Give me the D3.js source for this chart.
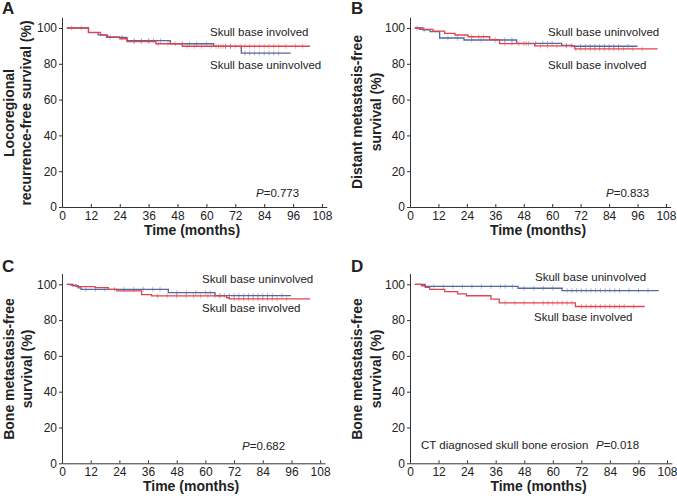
<!DOCTYPE html>
<meta charset="utf-8">
<style>
    body { margin: 0; background: #fff; }
    text { font-family: "Liberation Sans", Arial, sans-serif; fill: #222; }
    .tick text { font-size: 12px; }
    .axis path, .axis line { stroke: #333; }
    .title { font-size: 14px; font-weight: bold; }
    .letter { font-size: 17px; font-weight: bold; }
    .note { font-size: 11.5px; }
</style>
<svg width="677" height="496"></svg>
<script src="https://d3js.org/d3.v7.min.js"></script>
<script>

    // [time in months, survival %] steps
    var aInvolved = [[2,100],[11,97.6],[16,96],[19,95],[24,94],[27,92.4],[39,91.2],[50,89.8],[103,89.8]];
    var aUninvolved = [[2,100],[11,97.4],[15,96.2],[18.5,94.8],[27,92.9],[45,91.2],[63,89.7],[74.5,86],[95,86]];
    var bInvolved = [[2,100],[4,99.2],[9.7,98.2],[14.6,97],[19,96.1],[24.5,95.1],[33.6,93.5],[37.8,91.3],[52.6,90],[69.5,88.3],[104.5,88.3]];
    var bUninvolved = [[2,100],[5.5,99],[8.5,98],[12.5,94.4],[22.8,93.3],[45,91.4],[64,90.3],[68.5,89.8],[96,89.8]];
    var cInvolved = [[2,100],[3.5,99.5],[6,98.7],[13.8,98.1],[19.4,97.2],[22.9,96.3],[33.3,94.2],[37.5,93.5],[68.9,92.5],[70,91.9],[103.8,91.9]];
    var cUninvolved = [[2,100],[4.5,99.2],[6.8,98],[8,97.2],[44.5,95.3],[64,93.7],[95.8,93.7]];
    var dInvolved = [[2,100],[4.8,99.2],[6.4,98.3],[8.3,97.2],[14.6,95.9],[20,94.7],[23.7,93.6],[34,91.7],[37.5,89.6],[69.5,87.6],[98.6,87.6]];
    var dUninvolved = [[2,100],[6.4,98.8],[45.4,97.8],[63.9,96.5],[104.5,96.5]];

    // censored times
    var aInvCens = [30,33,36,40,44,47,52,55,58,62,65,67,68,70,72,74,76,78,80,82,84,86,88,90,93,97,100];
    var aUninvCens = [4,8,20,25,30,33,36,38,41,50,53,56,60,64,66,68,70,76,78,80,82,84,86,88,90];
    var bInvCens = [26,29,31,40,43,46,49,55,58,62,66,70,72,74,76,78,80,82,84,86,88,90,94,98];
    var bUninvCens = [3,6,16,20,26,30,36,40,43,48,50,53,56,58,60,66,68,72,74,76,78,80,82,84,86,88,92];
    var cInvCens = [40,44,48,52,55,58,61,64,66,72,74,76,78,80,82,84,86,88,90,94];
    var cUninvCens = [10,14,18,22,26,30,34,38,41,48,52,56,60,62,66,68,70,72,74,76,78,80,82,84,86,88,92];
    var dInvCens = [40,44,48,52,56,58,60,62,64,66,68,72,74,76,78,80,82,84,86,88,90,94];
    var dUninvCens = [10,14,18,22,26,30,34,38,40,43,48,52,56,60,66,68,70,72,74,76,78,80,82,84,86,88,92,96,100];

    var xTicks = [0,12,24,36,48,60,72,84,96,108];
    var yTicks = [0,20,40,60,80,100];

    var red = "#e2434c", blue = "#55679f";

    var panels = [
        {letter: "A", lx: 2, ly: 14, x0: 62, kx: 2.407, y0: 207, ylab: ["Locoregional", "recurrence-free survival (%)"], yl1: 9, yl2: 26, ymid: 113,
         red: aInvolved, blue: aUninvolved, redC: aInvCens, blueC: aUninvCens,
         labels: [["Skull base involved", 210, 36], ["Skull base uninvolved", 210, 69]], p: ["0.773", 256, 197]},
        {letter: "B", lx: 351, ly: 14, x0: 410, kx: 2.37, y0: 207, ylab: ["Distant metastasis-free", "survival (%)"], yl1: 357, yl2: 376, ymid: 112,
         red: bInvolved, blue: bUninvolved, redC: bInvCens, blueC: bUninvCens,
         labels: [["Skull base uninvolved", 548, 36], ["Skull base involved", 548, 69]], p: ["0.833", 606, 197]},
        {letter: "C", lx: 2, ly: 272, x0: 62, kx: 2.39, y0: 463.3, ylab: ["Bone metastasis-free", "survival (%)"], yl1: 9, yl2: 27, ymid: 369,
         red: cInvolved, blue: cUninvolved, redC: cInvCens, blueC: cUninvCens,
         labels: [["Skull base uninvolved", 202, 283], ["Skull base involved", 202, 312]], p: ["0.682", 242, 450]},
        {letter: "D", lx: 351, ly: 272, x0: 410, kx: 2.38, y0: 463.3, ylab: ["Bone metastasis-free", "survival (%)"], yl1: 357, yl2: 376, ymid: 369,
         red: dInvolved, blue: dUninvolved, redC: dInvCens, blueC: dUninvCens,
         labels: [["Skull base uninvolved", 535, 281], ["Skull base involved", 534, 321], ["CT diagnosed skull bone erosion", 421, 449]], p: ["0.018", 596, 449]}
    ];

    var svg = d3.select("svg");

    function stepAt(steps, t) {
        var v = steps[0][1];
        steps.forEach(function(s) { if (s[0] <= t) v = s[1]; });
        return v;
    }

    panels.forEach(function(pn) {
        var x = d3.scaleLinear().domain([0, 110]).range([pn.x0, pn.x0 + pn.kx * 110]);
        var y = d3.scaleLinear().domain([0, 106]).range([pn.y0, pn.y0 - 1.79 * 106]);
        var g = svg.append("g");

        g.append("g").attr("class", "axis")
            .attr("transform", "translate(0," + pn.y0 + ")")
            .call(d3.axisBottom(x).tickValues(xTicks).tickSize(-3).tickSizeOuter(0).tickPadding(4));

        g.append("g").attr("class", "axis")
            .attr("transform", "translate(" + pn.x0 + ",0)")
            .call(d3.axisLeft(y).tickValues(yTicks).tickSize(3).tickSizeOuter(0).tickPadding(2));

        var line = d3.line().curve(d3.curveStepAfter)
            .x(function(d) { return x(d[0]); })
            .y(function(d) { return y(d[1]); });

        [[pn.blue, pn.blueC, blue], [pn.red, pn.redC, red]].forEach(function(s) {
            g.selectAll(null).data(s[1]).enter().append("line")
                .attr("x1", function(t) { return x(t); })
                .attr("x2", function(t) { return x(t); })
                .attr("y1", function(t) { return y(stepAt(s[0], t)) - 2.5; })
                .attr("y2", function(t) { return y(stepAt(s[0], t)) + 2.5; })
                .attr("stroke", s[2]).attr("stroke-opacity", 0.45).attr("stroke-width", 1);
            g.append("path").datum(s[0])
                .attr("d", line)
                .attr("fill", "none")
                .attr("stroke", s[2])
                .attr("stroke-width", 1.3);
        });

        g.append("text").attr("class", "letter").attr("x", pn.lx).attr("y", pn.ly).text(pn.letter);

        g.append("text").attr("class", "title")
            .attr("x", x(54)).attr("y", pn.y0 + 28)
            .attr("text-anchor", "middle").text("Time (months)");

        [[pn.ylab[0], pn.yl1], [pn.ylab[1], pn.yl2]].forEach(function(l) {
            g.append("text").attr("class", "title")
                .attr("transform", "translate(" + (l[1] + 5) + "," + pn.ymid + ") rotate(-90)")
                .attr("text-anchor", "middle").text(l[0]);
        });

        pn.labels.forEach(function(l) {
            g.append("text").attr("class", "note").attr("x", l[1]).attr("y", l[2]).text(l[0]);
        });

        var pt = g.append("text").attr("class", "note").attr("x", pn.p[1]).attr("y", pn.p[2]);
        pt.append("tspan").attr("font-style", "italic").text("P");
        pt.append("tspan").text("=" + pn.p[0]);
    });

</script>
